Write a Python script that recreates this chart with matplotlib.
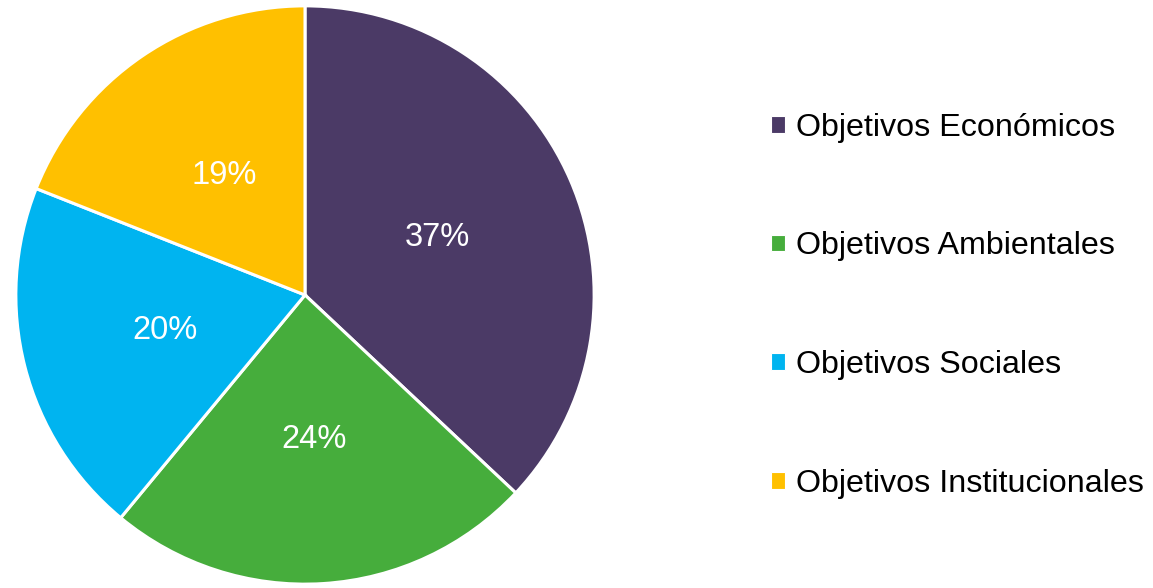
import matplotlib
matplotlib.use("Agg")
from matplotlib import pyplot as plt
from matplotlib.patches import Patch

plt.rcParams['font.family'] = ['Liberation Sans', 'DejaVu Sans']

categorias = ["Objetivos Económicos", "Objetivos Ambientales",
              "Objetivos Sociales", "Objetivos Institucionales"]
valores = [37, 24, 20, 19]
colores = ["#4B3A66", "#46AD3C", "#00B4F0", "#FFC000"]

fig = plt.figure(figsize=(11.53, 5.88), dpi=100, facecolor='white')
# eje del pastel en pixeles: centro (304, 297 desde arriba), radio ~289
ax = fig.add_axes([15 / 1153, 3 / 588, 580 / 1153, 580 / 588])

wedges, texts, autotexts = ax.pie(
    valores, colors=colores, startangle=90, counterclock=False,
    autopct='%1.0f%%', pctdistance=0.5,
    wedgeprops=dict(edgecolor='white', linewidth=2.2),
    textprops=dict(color='white', fontsize=23.5))
ax.set_xlim(-1.003, 1.003)
ax.set_ylim(-1.003, 1.003)
ax.set_aspect('equal')

handles = [Patch(facecolor=c, edgecolor='white', linewidth=0.8) for c in colores]
fig.legend(handles, categorias, loc='center left',
           bbox_to_anchor=(742 / 1153, 0.48), frameon=False,
           fontsize=23.2, handlelength=0.42, handleheight=0.42,
           handletextpad=0.35, labelspacing=2.75)

fig.savefig('out.png', dpi=100, facecolor='white')
